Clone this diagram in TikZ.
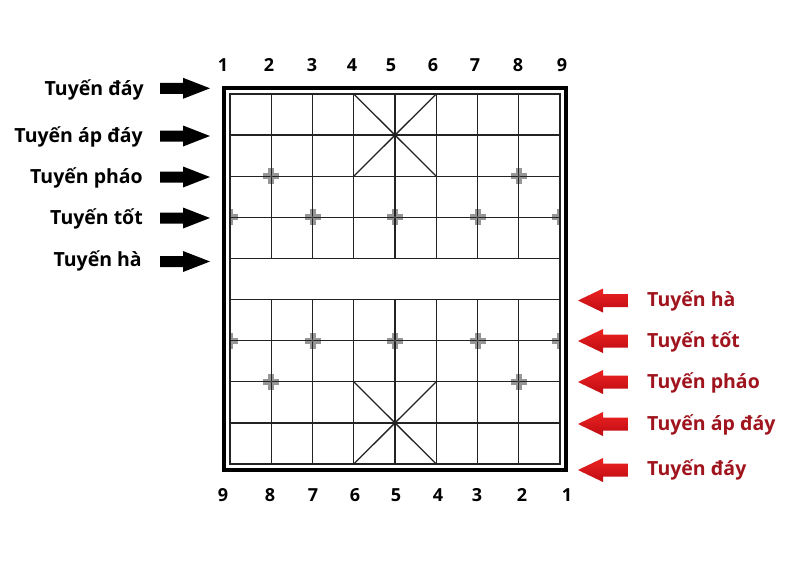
\documentclass[tikz,border=0pt]{standalone}
\usepackage{fontspec}
\setmainfont{Open Sans}
\definecolor{redtxt}{RGB}{160,20,30}
\definecolor{redtop}{RGB}{236,34,34}
\definecolor{redbot}{RGB}{190,12,18}
\definecolor{gridc}{RGB}{35,35,35}
\definecolor{mkc}{RGB}{150,150,150}
\begin{document}
\begin{tikzpicture}[x=1pt,y=-1pt,
  lbl/.style={font=\fontsize{19.5}{24}\selectfont\bfseries, inner sep=0pt},
  lblL/.style={lbl, anchor=base east},
  lblR/.style={lbl, anchor=base west, text=redtxt},
  num/.style={font=\fontsize{18}{22}\selectfont\bfseries, inner sep=0pt, anchor=base},
  gridline/.style={draw=gridc, line width=1.3pt},
  blkarrow/.pic={\fill[black] (-25,-5.5) -- (-2,-5.5) -- (-2,-10.5) -- (25,0) -- (-2,10.5) -- (-2,5.5) -- (-25,5.5) -- cycle;},
  redarrow/.pic={\shade[top color=redtop, bottom color=redbot] (-25,0) -- (0,-12) -- (0,-6.5) -- (25,-6.5) -- (25,6.5) -- (0,6.5) -- (0,12) -- cycle;},
  mkfull/.pic={\fill[mkc] (-8,-3) rectangle (8,3); \fill[mkc] (-3,-8) rectangle (3,8);},
  mkleft/.pic={\fill[mkc] (0,-3) rectangle (8,3); \fill[mkc] (0,-8) rectangle (3,8);},
  mkright/.pic={\fill[mkc] (-8,-3) rectangle (0,3); \fill[mkc] (-3,-8) rectangle (0,8);}
]
\useasboundingbox[fill=white] (0,0) rectangle (800,560);

% markers (under the grid lines)
\foreach \yy in {217.3,340.7}{
  \pic at (230,\yy) {mkleft};
  \pic at (312.5,\yy) {mkfull};
  \pic at (395,\yy) {mkfull};
  \pic at (477.5,\yy) {mkfull};
  \pic at (560,\yy) {mkright};
}
\foreach \yy in {176.2,381.8}{
  \pic at (271.25,\yy) {mkfull};
  \pic at (518.75,\yy) {mkfull};
}

% board
\draw[black, line width=4pt] (224,88) rectangle (566,470);
\draw[gridline] (230,94) rectangle (560,464);
\foreach \j in {1,...,8}{
  \draw[gridline] (230,94+\j*41.111) -- (560,94+\j*41.111);
}
\foreach \i in {1,...,7}{
  \draw[gridline] (230+\i*41.25,94) -- (230+\i*41.25,258.44);
  \draw[gridline] (230+\i*41.25,299.56) -- (230+\i*41.25,464);
}
% palaces
\draw[gridline] (353.75,94) -- (436.25,176.22) (436.25,94) -- (353.75,176.22);
\draw[gridline] (353.75,381.78) -- (436.25,464) (436.25,381.78) -- (353.75,464);

% marker centres
\foreach \xx/\yy in {271.25/176.2,518.75/176.2,312.5/217.3,395/217.3,477.5/217.3,
                     271.25/381.8,518.75/381.8,312.5/340.7,395/340.7,477.5/340.7}{
  \fill[black!70] (\xx,\yy) circle (1.3);
}

% column numbers
\node[num] (t1) at (223,71) {1};
\node[num] (t2) at (269,71) {2};
\node[num] (t3) at (312,71) {3};
\node[num] (t4) at (352,71) {4};
\node[num] (t5) at (391,71) {5};
\node[num] (t6) at (433,71) {6};
\node[num] (t7) at (475,71) {7};
\node[num] (t8) at (518,71) {8};
\node[num] (t9) at (562,71) {9};
\node[num] (b9) at (223,501) {9};
\node[num] (b8) at (270,501) {8};
\node[num] (b7) at (313,501) {7};
\node[num] (b6) at (355,501) {6};
\node[num] (b5) at (396,501) {5};
\node[num] (b4) at (438,501) {4};
\node[num] (b3) at (477,501) {3};
\node[num] (b2) at (522,501) {2};
\node[num] (b1) at (567,501) {1};

% left labels and arrows
\node[lblL] (L1) at (144,95) {Tuyến đáy};
\node[lblL] (L2) at (143,142.7) {Tuyến áp đáy};
\node[lblL] (L3) at (143,183.5) {Tuyến pháo};
\node[lblL] (L4) at (143,224.3) {Tuyến tốt};
\node[lblL] (L5) at (142,266.5) {Tuyến hà};
\pic at (185,88.3) {blkarrow};
\pic at (185,136) {blkarrow};
\pic at (185,177) {blkarrow};
\pic at (185,218) {blkarrow};
\pic at (185,261.5) {blkarrow};

% right labels and arrows
\node[lblR] (R1) at (647,306) {Tuyến hà};
\node[lblR] (R2) at (647,347.3) {Tuyến tốt};
\node[lblR] (R3) at (647,388.3) {Tuyến pháo};
\node[lblR] (R4) at (647,430) {Tuyến áp đáy};
\node[lblR] (R5) at (647,475.5) {Tuyến đáy};
\pic at (603,300.5) {redarrow};
\pic at (603,341) {redarrow};
\pic at (603,382) {redarrow};
\pic at (603,424) {redarrow};
\pic at (603,470) {redarrow};
\end{tikzpicture}
\end{document}
